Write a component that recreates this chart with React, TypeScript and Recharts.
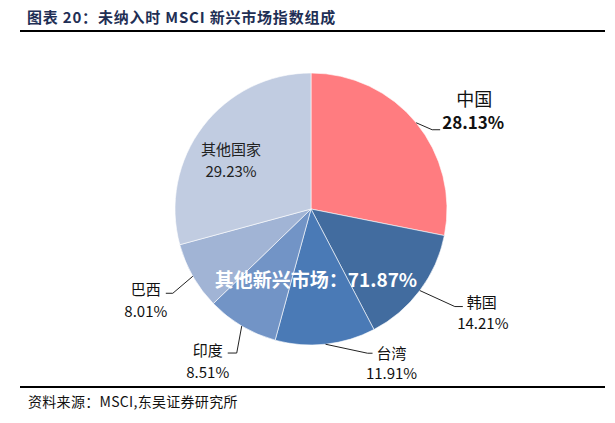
import React from 'react';
import { PieChart, Pie, Cell } from 'recharts';

document.body.style.margin = '0';

const names = ['中国', '韩国', '台湾', '印度', '巴西', '其他国家'];
const shares = [28.13, 14.21, 11.91, 8.51, 8.01, 29.23];
const colors = ['#FF7C80', '#426C9F', '#4A7AB6', '#7294C6', '#A1B4D5', '#C1CCE1'];
const otherEmTotal = '71.87%';

const data = names.map((name, i) => ({ name, value: shares[i] }));

// leader layout per slice: elbow offset from arc, horizontal run, text offsets from line end
const leaderCfg: Record<string, any> = {
  中国: { d1: [16, 7], run: 8, name: [34, -32], val: [33, -8], big: true },
  韩国: { d1: [35, 16], run: 8, name: [19, -5], val: [20, 16] },
  台湾: { d1: [42, 9], run: 5, name: [19, -1], val: [19, 19] },
  印度: { d1: [-5, 27], run: -9, name: [-20, -4], val: [-20, 18] },
  巴西: { d1: [-20, 17], run: -7, name: [-20, -5], val: [-20, 17] },
};

const RAD = Math.PI / 180;
const font = '"Noto Sans CJK SC", "Noto Sans", sans-serif';

const renderLabel = (props: any) => {
  const { cx, cy, midAngle, outerRadius, name, value } = props;
  const cos = Math.cos(-midAngle * RAD);
  const sin = Math.sin(-midAngle * RAD);
  const pct = `${value.toFixed(2)}%`;
  const cfg = leaderCfg[name];
  if (!cfg) {
    const r = outerRadius * 0.74;
    const x = cx + r * cos;
    const y = cy + r * sin;
    return (
      <g>
        <text x={x} y={y + 1} textAnchor="middle" dominantBaseline="central" fontSize={15} fill="#222" fontFamily={font}>{name}</text>
        <text x={x} y={y + 23} textAnchor="middle" dominantBaseline="central" fontSize={15} fill="#222" fontFamily={font}>{pct}</text>
      </g>
    );
  }
  const ax = cx + outerRadius * cos;
  const ay = cy + outerRadius * sin;
  const ex = ax + cfg.d1[0];
  const ey = ay + cfg.d1[1];
  const fx = ex + cfg.run;
  return (
    <g>
      <polyline points={`${ax},${ay} ${ex},${ey} ${fx},${ey}`} fill="none" stroke="#222" strokeWidth={1} />
      <text x={fx + cfg.name[0]} y={ey + cfg.name[1]} textAnchor="middle" dominantBaseline="central" fontSize={cfg.big ? 18 : 15} fill="#111" fontFamily={font}>{name}</text>
      <text x={fx + cfg.val[0]} y={ey + cfg.val[1]} textAnchor="middle" dominantBaseline="central" fontSize={cfg.big ? 17 : 15} fontWeight={cfg.big ? 700 : 400} fill="#111" fontFamily={font}>{pct}</text>
    </g>
  );
};

export default function App() {
  return (
    <div style={{ position: 'relative', width: 615, height: 423, background: '#fff', fontFamily: font }}>
      <div style={{ position: 'absolute', left: 27, top: 6, fontSize: 15, fontWeight: 700, color: '#1F2F55', whiteSpace: 'nowrap', letterSpacing: 0.8 }}>
        图表 20：未纳入时 MSCI 新兴市场指数组成
      </div>
      <div style={{ position: 'absolute', left: 20, top: 30, width: 585, height: 2, background: '#000' }} />
      <div style={{ position: 'absolute', left: 0, top: 0 }}>
        <PieChart width={615} height={423} margin={{ top: 0, right: 0, bottom: 0, left: 0 }}>
          <Pie
            data={data}
            dataKey="value"
            nameKey="name"
            cx={311}
            cy={209}
            outerRadius={136}
            startAngle={90}
            endAngle={-270}
            label={renderLabel}
            labelLine={false}
            stroke="#ffffff"
            strokeWidth={0.6}
            isAnimationActive={false}
          >
            {data.map((d, i) => (
              <Cell key={d.name} fill={colors[i]} />
            ))}
          </Pie>
        </PieChart>
      </div>
      <div style={{ position: 'absolute', left: 316, top: 278, transform: 'translate(-50%, -50%)', fontSize: 19, fontWeight: 700, color: '#fff', whiteSpace: 'nowrap' }}>
        其他新兴市场：{otherEmTotal}
      </div>
      <div style={{ position: 'absolute', left: 20, top: 386, width: 585, height: 2, background: '#000' }} />
      <div style={{ position: 'absolute', left: 28, top: 391, fontSize: 14, color: '#111', whiteSpace: 'nowrap', letterSpacing: 0.3 }}>
        资料来源：MSCI,东吴证券研究所
      </div>
    </div>
  );
}
